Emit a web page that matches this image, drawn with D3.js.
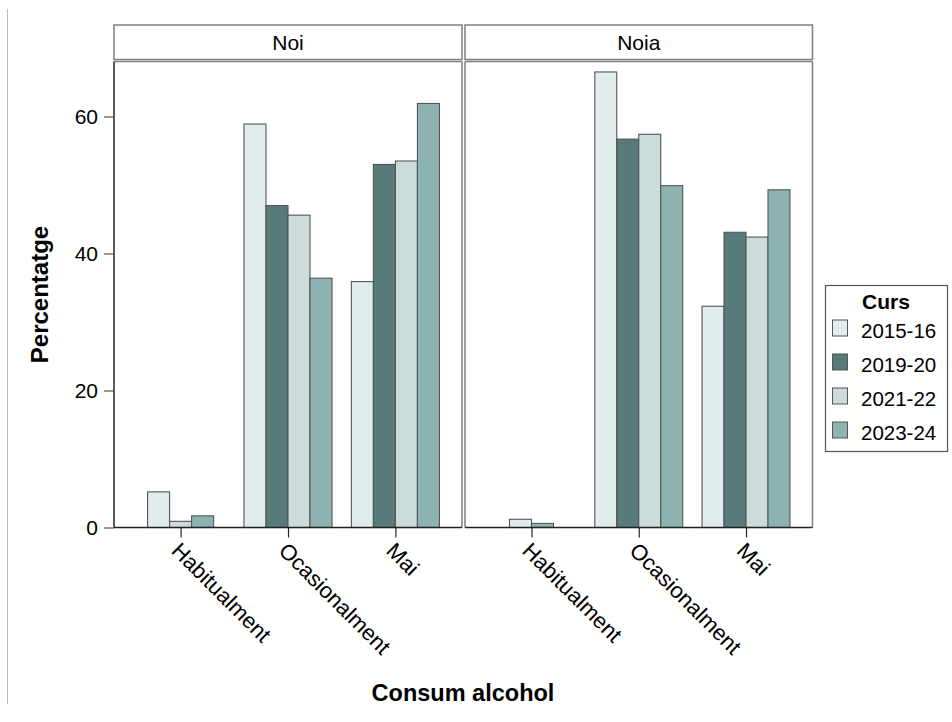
<!DOCTYPE html>
<html>
<head>
<meta charset="utf-8">
<script src="https://cdn.jsdelivr.net/npm/d3@7"></script>
<style>
  html, body { margin: 0; padding: 0; background: #fff; }
  text { font-family: "Liberation Sans", Arial, sans-serif; }
</style>
</head>
<body>
<svg id="chart" width="952" height="722"></svg>
<script>
// ---- Data ----
const panels = ["Noi", "Noia"];
const categories = ["Habitualment", "Ocasionalment", "Mai"];
const years = ["2015-16", "2019-20", "2021-22", "2023-24"];
// one array per panel & year, values per category (null = no bar)
const noi_2015_16 = [5.2, 58.9, 35.9];
const noi_2019_20 = [null, 47.0, 53.0];
const noi_2021_22 = [0.9, 45.6, 53.5];
const noi_2023_24 = [1.7, 36.4, 61.9];
const noia_2015_16 = [1.2, 66.5, 32.3];
const noia_2019_20 = [null, 56.7, 43.1];
const noia_2021_22 = [null, 57.4, 42.4];
const noia_2023_24 = [0.6, 49.9, 49.3];
const yTicks = [0, 20, 40, 60];
const colors = ["#e1eded", "#567b79", "#ccdcdb", "#8cb3b0"];

const seriesByPanel = {
  "Noi": [noi_2015_16, noi_2019_20, noi_2021_22, noi_2023_24],
  "Noia": [noia_2015_16, noia_2019_20, noia_2021_22, noia_2023_24]
};

// ---- Layout ----
const svg = d3.select("#chart");
const panelX = { "Noi": [114, 462], "Noia": [465, 812.5] };
const stripTop = 25, stripBottom = 59.5, panelTop = 61.5, panelBottom = 527.5;

const y = d3.scaleLinear().domain([0, 60]).range([panelBottom, 116.5]);

// left thin gray line
svg.append("line").attr("x1", 7.5).attr("x2", 7.5).attr("y1", 9).attr("y2", 704)
  .attr("stroke", "#bdbdbd").attr("stroke-width", 1);

const color = d3.scaleOrdinal().domain(years).range(colors);

panels.forEach(p => {
  const [x0, x1] = panelX[p];
  const x = d3.scalePoint().domain(categories).range([x0, x1]).padding(0.62);
  const step = x.step();
  const barW = step * 0.205;
  const g = svg.append("g");

  // strip
  g.append("rect").attr("x", x0).attr("y", stripTop).attr("width", x1 - x0).attr("height", stripBottom - stripTop)
    .attr("fill", "#fff").attr("stroke", "#7f7f7f").attr("stroke-width", 1.5);
  g.append("text").attr("x", (x0 + x1) / 2).attr("y", (stripTop + stripBottom) / 2 + 7.5)
    .attr("text-anchor", "middle").attr("font-size", 21).attr("fill", "#000").text(p);

  // bars
  categories.forEach((c, ci) => {
    const present = years.map((yr, yi) => ({ yr, v: seriesByPanel[p][yi][ci] })).filter(d => d.v !== null);
    const n = present.length;
    present.forEach((d, i) => {
      const cx = x(c) + (i - (n - 1) / 2) * barW;
      g.append("rect")
        .attr("x", cx - barW / 2).attr("width", barW)
        .attr("y", y(d.v)).attr("height", y(0) - y(d.v))
        .attr("fill", color(d.yr)).attr("stroke", "#555").attr("stroke-width", 1.1);
    });
  });

  // panel frame (top, right, left)
  g.append("line").attr("x1", x0).attr("x2", x1).attr("y1", panelTop).attr("y2", panelTop)
    .attr("stroke", "#7f7f7f").attr("stroke-width", 1.5);
  g.append("line").attr("x1", x1).attr("x2", x1).attr("y1", panelTop).attr("y2", panelBottom)
    .attr("stroke", "#7f7f7f").attr("stroke-width", 1.5);
  if (p === "Noia") {
    g.append("line").attr("x1", x0).attr("x2", x0).attr("y1", panelTop).attr("y2", panelBottom)
      .attr("stroke", "#7f7f7f").attr("stroke-width", 1.5);
  }

  // x axis
  const xAxis = d3.axisBottom(x).tickSize(10).tickSizeOuter(0).tickFormat("");
  const ax = g.append("g").attr("transform", `translate(0,${panelBottom})`).call(xAxis);
  ax.select(".domain").attr("stroke", "#222").attr("stroke-width", 1.5).attr("d", `M${x0},0H${x1}`);
  ax.selectAll(".tick line").attr("stroke", "#222").attr("stroke-width", 1.2);

  categories.forEach(c => {
    g.append("text")
      .attr("transform", `translate(${x(c) - 5},${panelBottom + 19}) rotate(45)`)
      .attr("text-anchor", "start").attr("font-size", 22).attr("dy", "0.35em")
      .attr("fill", "#000").text(c);
  });
});

// y axis
const yAxis = d3.axisLeft(y).tickValues(yTicks).tickSize(10).tickSizeOuter(0).tickPadding(6);
const ya = svg.append("g").attr("transform", `translate(114,0)`).call(yAxis);
ya.select(".domain").attr("stroke", "#222").attr("stroke-width", 1.5).attr("d", `M0,${panelTop}V${panelBottom}`);
ya.selectAll(".tick line").attr("stroke", "#555").attr("stroke-width", 1.2);
ya.selectAll(".tick text").attr("font-size", 21).attr("fill", "#000")
  .style("font-family", "'Liberation Sans', Arial, sans-serif");

// axis titles
svg.append("text").attr("transform", `translate(48,${(panelTop + panelBottom) / 2}) rotate(-90)`)
  .attr("text-anchor", "middle").attr("font-size", 24).attr("font-weight", "bold").text("Percentatge");
svg.append("text").attr("x", 463).attr("y", 701)
  .attr("text-anchor", "middle").attr("font-size", 23.5).attr("font-weight", "bold").text("Consum alcohol");

// legend
const lg = svg.append("g");
lg.append("rect").attr("x", 825.5).attr("y", 285.5).attr("width", 122).attr("height", 166)
  .attr("fill", "#fff").attr("stroke", "#555").attr("stroke-width", 1.2);
lg.append("text").attr("x", 886).attr("y", 309).attr("text-anchor", "middle")
  .attr("font-size", 21).attr("font-weight", "bold").text("Curs");
years.forEach((yr, i) => {
  const yy = 320 + i * 34;
  lg.append("rect").attr("x", 832.5).attr("y", yy).attr("width", 15).attr("height", 16)
    .attr("fill", color(yr)).attr("stroke", "#555").attr("stroke-width", 1);
  lg.append("text").attr("x", 861).attr("y", yy + 18).attr("font-size", 20.5).text(yr);
});
</script>
</body>
</html>
